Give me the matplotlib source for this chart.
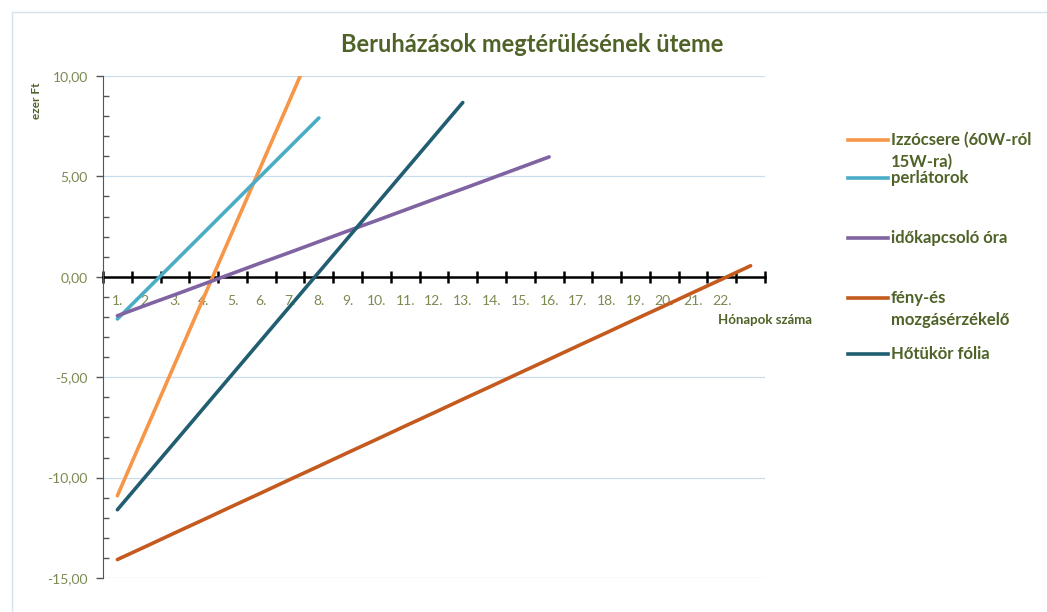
import matplotlib.pyplot as plt
from matplotlib.lines import Line2D
from matplotlib.patches import Rectangle
from matplotlib.ticker import FixedLocator, MultipleLocator, FuncFormatter

plt.rcParams["font.family"] = ["Lato", "DejaVu Sans"]

# month categories (23 slots, last label left empty)
months = list(range(1, 24))
month_labels = [f"{m}." for m in range(1, 23)] + [""]

# cumulative return (thousand Ft) per month
izzocsere = [-10.90, -7.61, -4.32, -1.03, 2.26, 5.55, 8.84, 12.13]
perlatorok = [-2.10, -0.67, 0.76, 2.19, 3.62, 5.05, 6.48, 7.91]
idokapcsolo = [-1.94, -1.41, -0.89, -0.36, 0.17, 0.70, 1.22, 1.75, 2.28,
               2.80, 3.33, 3.86, 4.38, 4.91, 5.44, 5.97]
feny_mozgas = [-14.08, -13.42, -12.75, -12.09, -11.42, -10.76, -10.09,
               -9.43, -8.76, -8.10, -7.43, -6.77, -6.10, -5.44, -4.77,
               -4.11, -3.44, -2.78, -2.11, -1.45, -0.78, -0.12, 0.55]
hotukor = [-11.60, -9.91, -8.22, -6.53, -4.84, -3.15, -1.46, 0.23, 1.92,
           3.61, 5.30, 6.99, 8.68]

series = [
    ("Izzócsere (60W-ról\n15W-ra)", izzocsere, "#F79646"),
    ("perlátorok", perlatorok, "#4BACC6"),
    ("időkapcsoló óra", idokapcsolo, "#8064A2"),
    ("fény-és\nmozgásérzékelő", feny_mozgas, "#C55A1E"),
    ("Hőtükör fólia", hotukor, "#215E72"),
]

label_green = "#7A8A50"
dark_green = "#4F6228"

fig = plt.figure(figsize=(10.47, 6.12), dpi=100)
ax = fig.add_axes([103 / 1047, 1 - 578 / 612, (765 - 103) / 1047, (578 - 76) / 612])

for name, vals, color in series:
    ax.plot(months[:len(vals)], vals, color=color, lw=2.6,
            solid_capstyle="round", zorder=3)

ax.set_xlim(0.5, 23.5)
ax.set_ylim(-15, 10)

# grid
for gy in [-15, -10, -5, 5, 10]:
    ax.axhline(gy, color="#C9DCEB", lw=0.9, zorder=1)

# spines
for s in ["top", "right"]:
    ax.spines[s].set_visible(False)
ax.spines["bottom"].set_position(("data", 0))
ax.spines["bottom"].set_linewidth(1.8)
ax.spines["bottom"].set_zorder(2)
ax.spines["left"].set_color("#555555")

# y ticks
ax.yaxis.set_major_locator(MultipleLocator(5))
ax.yaxis.set_minor_locator(MultipleLocator(1))
ax.yaxis.set_major_formatter(FuncFormatter(lambda v, p: f"{v:.2f}".replace(".", ",")))
ax.tick_params(axis="y", which="major", direction="out", length=5, width=1,
               color="#555555", labelsize=10, labelcolor=label_green, pad=6)
ax.tick_params(axis="y", which="minor", direction="in", length=4, width=1,
               color="#555555")

# x ticks: labels at centres, marks at boundaries
ax.xaxis.set_major_locator(FixedLocator(months))
ax.set_xticklabels(month_labels)
ax.xaxis.set_minor_locator(FixedLocator([m + 0.5 for m in range(0, 24)]))
ax.tick_params(axis="x", which="major", length=0, labelsize=10,
               labelcolor=label_green, pad=13)
ax.tick_params(axis="x", which="minor", direction="inout", length=9, width=1.8,
               color="black")

ax.text(23.5, -2.15, "Hónapok száma", ha="center", va="center", fontsize=9.5,
        fontweight="bold", color=dark_green)

fig.text(37 / 1047, 1 - 101 / 612, "ezer Ft", rotation=90, ha="center",
         va="center", fontsize=8.5, fontweight="bold", color=dark_green)

fig.text(532 / 1047, 1 - 44 / 612, "Beruházások megtérülésének üteme",
         ha="center", va="center", fontsize=17, fontweight="bold",
         color=dark_green)

# manual legend
legend_y = [140, 178, 238, 298, 354]
for (name, vals, color), ly in zip(series, legend_y):
    yf = 1 - ly / 612
    fig.add_artist(Line2D([848 / 1047, 888 / 1047], [yf, yf], color=color,
                          lw=2.6, transform=fig.transFigure))
    for k, part in enumerate(name.split("\n")):
        fig.text(891 / 1047, 1 - (ly + 22 * k) / 612, part, ha="left",
                 va="center", fontsize=12, fontweight="bold",
                 color=dark_green)

# outer chart frame
fig.add_artist(Rectangle((12 / 1047, -0.05), 1.1, 1 - 12 / 612 + 0.05,
                         transform=fig.transFigure, fill=False,
                         edgecolor="#D6E2EE", lw=1))

fig.savefig("out.png", dpi=100)
